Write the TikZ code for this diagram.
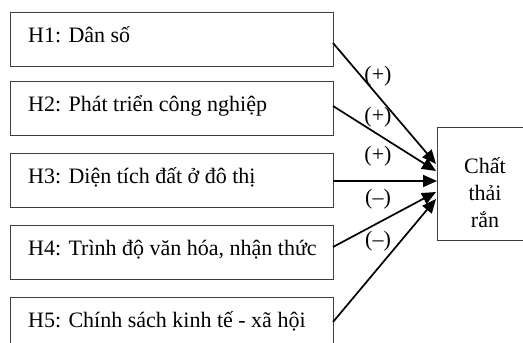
\documentclass[tikz,border=0pt]{standalone}
\usepackage{fontspec}
\setmainfont{Liberation Serif}
\usetikzlibrary{arrows.meta}
\begin{document}
\begin{tikzpicture}[x=1pt,y=-1pt,
  hbox/.style={draw=black!75,line width=0.8pt,minimum width=323pt,minimum height=54pt,inner sep=0pt,anchor=north west},
  htext/.style={anchor=base west,font=\fontsize{22}{26}\selectfont,inner sep=0pt},
  conn/.style={line width=1.7pt,-{Triangle[length=14pt,width=12pt]}},
  sign/.style={font=\fontsize{22}{26}\selectfont,inner sep=0pt}]
\useasboundingbox (0,0) rectangle (523,343);
\clip (0,0) rectangle (523,343);
\node[hbox] (b1) at (10,12) {};
\node[hbox] (b2) at (10,81) {};
\node[hbox] (b3) at (10,153) {};
\node[hbox] (b4) at (10,225) {};
\node[hbox,minimum height=80pt] (b5) at (10,297) {};
\node[htext] (t1) at (28,42) {H1: Dân số};
\node[htext] (t2) at (28,111) {H2: Phát triển công nghiệp};
\node[htext] (t3) at (28,183) {H3: Diện tích đất ở đô thị};
\node[htext] (t4) at (28,255) {H4: Trình độ văn hóa, nhận thức};
\node[htext] (t5) at (28,327) {H5: Chính sách kinh tế - xã hội};
\node[minimum width=86pt,minimum height=113pt,inner sep=0pt,anchor=north west] (c) at (437,127) {};
\draw[draw=black!75,line width=0.8pt] (c.north east) -- (c.north west) -- (c.south west) -- (c.south east);
\node[align=center,font=\fontsize{22}{27}\selectfont,inner sep=0pt] (ct) at (485,193) {Chất\\thải\\rắn};
\coordinate (s1) at (333,43);
\coordinate (s2) at (333,106);
\coordinate (s3) at (333,181);
\coordinate (s4) at (333,247);
\coordinate (s5) at (333,322);
\coordinate (e1) at (436,164);
\coordinate (e2) at (436,171);
\coordinate (e3) at (437,181);
\coordinate (e4) at (436,192);
\coordinate (e5) at (436,199);
\draw[conn] (s1) -- (e1);
\draw[conn] (s2) -- (e2);
\draw[conn] (s3) -- (e3);
\draw[conn] (s4) -- (e4);
\draw[conn] (s5) -- (e5);
\node[sign] (p1) at (378,76) {(+)};
\node[sign] (p2) at (378,117) {(+)};
\node[sign] (p3) at (378,156) {(+)};
\node[sign] (m1) at (378,199) {(–)};
\node[sign] (m2) at (378,241) {(–)};
\end{tikzpicture}
\end{document}
